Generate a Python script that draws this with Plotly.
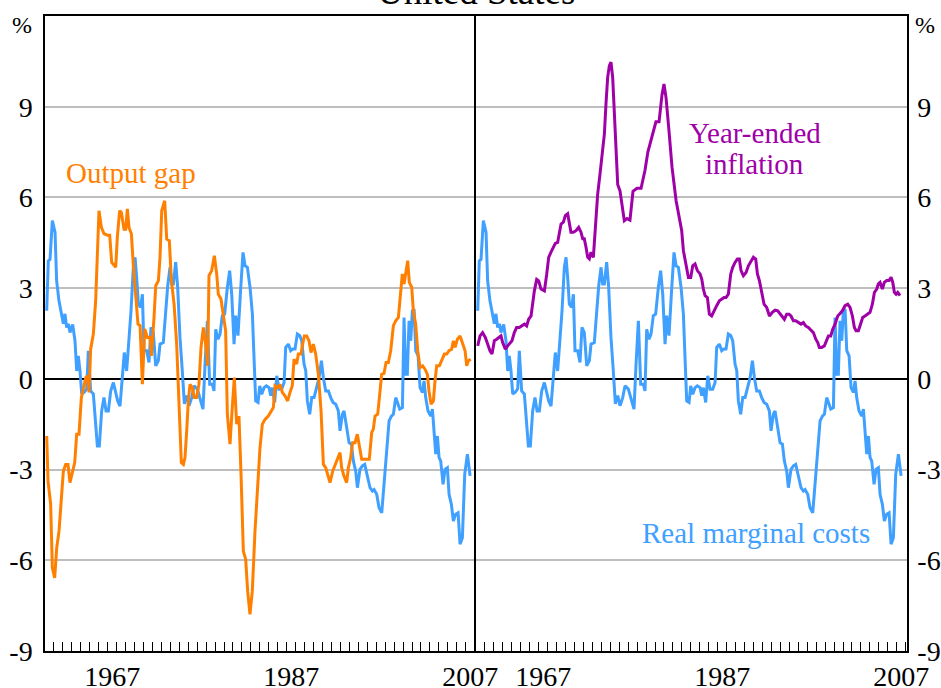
import plotly.graph_objects as go

# ---------------- data ----------------
rmc_years = [1960.19, 1960.37, 1960.56, 1960.82, 1961.12, 1961.30, 1961.56, 1961.86, 1962.05, 1962.23,
             1962.42, 1962.61, 1962.79, 1963.09, 1963.35, 1963.54, 1963.72, 1963.91, 1964.10, 1964.39,
             1964.66, 1964.84, 1965.10, 1965.40, 1965.59, 1965.85, 1966.07, 1966.33, 1966.59, 1966.82,
             1967.08, 1967.34, 1967.64, 1967.90, 1968.12, 1968.38, 1968.64, 1968.86, 1969.12, 1969.39,
             1969.61, 1969.87, 1970.06, 1970.24, 1970.43, 1970.69, 1970.88, 1971.06, 1971.36, 1971.62,
             1971.84, 1972.10, 1972.37, 1972.66, 1972.85, 1973.22, 1973.48, 1973.71, 1973.97, 1974.15,
             1974.34, 1974.60, 1974.82, 1975.08, 1975.34, 1975.57, 1975.83, 1976.09, 1976.39, 1976.65,
             1977.02, 1977.39, 1977.65, 1977.88, 1978.14, 1978.40, 1978.70, 1978.88, 1979.07, 1979.33,
             1979.55, 1979.81, 1980.07, 1980.37, 1980.63, 1980.86, 1981.12, 1981.30, 1981.56, 1981.86,
             1982.12, 1982.35, 1982.61, 1982.91, 1983.17, 1983.35, 1983.54, 1983.80, 1983.99, 1984.21,
             1984.47, 1984.73, 1985.03, 1985.22, 1985.40, 1985.66, 1985.89, 1986.15, 1986.44, 1986.71,
             1986.89, 1987.19, 1987.45, 1987.71, 1987.93, 1988.19, 1988.46, 1988.68, 1988.94, 1989.13,
             1989.31, 1989.57, 1989.80, 1990.06, 1990.32, 1990.62, 1990.88, 1991.10, 1991.36, 1991.66,
             1991.92, 1992.18, 1992.48, 1992.77, 1992.96, 1993.22, 1993.41, 1993.67, 1993.97, 1994.23,
             1994.45, 1994.71, 1994.90, 1995.19, 1995.46, 1995.72, 1996.01, 1996.31, 1996.57, 1996.76,
             1997.06, 1997.32, 1997.62, 1997.88, 1998.18, 1998.44, 1998.70, 1998.92, 1999.18, 1999.37,
             1999.63, 1999.93, 2000.11, 2000.30, 2000.48, 2000.67, 2000.86, 2001.04, 2001.23, 2001.42,
             2001.68, 2001.90, 2002.16, 2002.35, 2002.53, 2002.79, 2003.09, 2003.28, 2003.46, 2003.65,
             2003.84, 2004.02, 2004.21, 2004.47, 2004.69, 2004.95, 2005.14, 2005.40, 2005.62, 2005.88,
             2006.15, 2006.37, 2006.63, 2006.89, 2007.19, 2007.49]
rmc_values = [2.25, 3.90, 3.95, 5.23, 4.85, 3.25, 2.58, 2.15, 1.82, 2.15,
              1.70, 1.82, 1.53, 1.80, 1.26, 0.26, 0.76, 0.26, -0.50, -0.44,
              -0.33, 0.93, -0.40, -0.50, -1.28, -2.22, -2.22, -1.06, -0.62, -1.06,
              -1.06, -0.40, -0.12, -0.40, -0.73, -0.90, 0.26, 0.87, 0.26, 1.26,
              2.25, 3.69, 4.02, 3.36, 2.47, 2.36, 2.80, 0.93, 0.93, 0.54,
              1.70, 1.53, 0.43, 0.60, 1.15, 1.20, 2.15, 3.08, 3.69, 3.14,
              3.14, 3.86, 3.03, 1.37, 0.26, -0.83, -0.55, -0.89, -0.62, -0.23,
              -0.34, -0.68, -1.00, 0.49, 1.92, -0.18, -0.18, -0.40, 1.64, 1.31,
              1.48, 2.09, 2.14, 3.02, 3.58, 2.80, 1.15, 2.09, 1.43, 2.97,
              4.18, 3.74, 3.69, 3.02, 2.14, 0.71, -0.73, -0.78, -0.23, -0.51,
              -0.29, -0.23, -0.29, -0.56, -0.29, -0.78, 0.10, -0.34, -0.34, -0.12,
              1.04, 1.15, 0.93, 0.99, 0.99, 1.48, 1.43, 1.26, 0.49, 0.27,
              -0.73, -1.17, -0.62, -0.62, -0.29, 0.04, 0.60, 0.04, -0.40, -0.40,
              -0.62, -0.78, -0.84, -1.06, -1.72, -1.17, -1.06, -1.61, -2.11, -2.16,
              -2.72, -3.05, -3.60, -2.99, -2.88, -2.83, -3.16, -3.60, -3.71, -3.66,
              -3.82, -4.26, -4.43, -3.38, -2.27, -1.39, -1.23, -1.17, -0.62, -0.78,
              -1.00, -0.95, 2.03, 0.15, 0.15, 1.92, 1.26, 2.25, 2.31, 0.93,
              0.76, -0.29, -0.45, -0.07, -0.62, -1.06, -1.23, -1.00, -1.83, -2.49,
              -1.89, -2.60, -2.72, -3.49, -2.99, -2.94, -3.82, -4.15, -4.70, -4.48,
              -4.43, -5.47, -5.25, -3.16, -2.49, -3.21]

gap_years = [1960.19, 1960.34, 1960.63, 1960.82, 1961.08, 1961.31, 1961.57, 1961.83, 1962.05, 1962.31,
             1962.57, 1962.79, 1963.06, 1963.32, 1963.54, 1963.80, 1964.06, 1964.28, 1964.55, 1964.73,
             1964.92, 1965.10, 1965.40, 1965.66, 1965.85, 1966.03, 1966.30, 1966.59, 1966.97, 1967.23,
             1967.45, 1967.71, 1967.90, 1968.08, 1968.34, 1968.53, 1968.83, 1969.02, 1969.20, 1969.39,
             1969.65, 1969.87, 1970.13, 1970.39, 1970.62, 1970.88, 1971.14, 1971.44, 1971.73, 1971.88,
             1972.18, 1972.37, 1972.67, 1972.85, 1973.04, 1973.37, 1973.60, 1973.89, 1974.12, 1974.42,
             1974.71, 1974.90, 1975.09, 1975.23, 1975.46, 1975.64, 1975.83, 1976.01, 1976.20, 1976.46,
             1976.68, 1976.94, 1977.20, 1977.43, 1977.69, 1977.95, 1978.17, 1978.32, 1978.62, 1978.92,
             1979.18, 1979.36, 1979.66, 1979.92, 1980.18, 1980.37, 1980.67, 1980.85, 1981.15, 1981.41,
             1981.67, 1981.90, 1982.16, 1982.42, 1982.64, 1982.90, 1983.16, 1983.46, 1983.76, 1984.02,
             1984.28, 1984.58, 1984.95, 1985.25, 1985.51, 1985.70, 1986.00, 1986.26, 1986.52, 1986.81,
             1987.11, 1987.37, 1987.63, 1987.82, 1988.12, 1988.30, 1988.60, 1988.75, 1988.97, 1989.23,
             1989.49, 1989.72, 1989.98, 1990.24, 1990.54, 1990.84, 1991.10, 1991.36, 1991.66, 1991.84,
             1992.14, 1992.40, 1992.66, 1992.96, 1993.14, 1993.40, 1993.70, 1993.89, 1994.15, 1994.37,
             1994.63, 1994.89, 1995.12, 1995.38, 1995.64, 1995.94, 1996.23, 1996.50, 1996.68, 1996.87,
             1997.17, 1997.43, 1997.61, 1997.87, 1998.10, 1998.36, 1998.62, 1998.92, 1999.18, 1999.48,
             1999.66, 1999.92, 2000.11, 2000.33, 2000.52, 2000.70, 2000.97, 2001.15, 2001.41, 2001.64,
             2001.90, 2002.19, 2002.45, 2002.72, 2002.90, 2003.13, 2003.39, 2003.57, 2003.76, 2004.06,
             2004.32, 2004.62, 2004.88, 2005.14, 2005.43, 2005.62, 2005.81, 2006.07, 2006.37, 2006.67,
             2006.93, 2007.11, 2007.30, 2007.56]
gap_values = [-1.89, -3.38, -4.14, -6.25, -6.58, -5.58, -5.03, -4.10, -3.05, -2.83,
              -2.83, -3.43, -3.10, -2.77, -1.83, -1.83, -0.62, -0.34, 0.04, 0.10,
              -0.45, 0.98, 1.48, 2.58, 3.91, 5.56, 5.01, 4.80, 4.75, 4.75,
              3.85, 3.74, 3.69, 4.68, 5.56, 5.50, 4.95, 4.95, 5.62, 5.00,
              4.80, 3.74, 2.86, 1.81, 1.76, -0.18, 1.65, 1.37, 1.37, 0.76,
              2.03, 3.08, 3.25, 4.02, 5.56, 5.89, 4.62, 4.57, 3.25, 2.47,
              1.15, -0.18, -1.50, -2.77, -2.83, -2.60, -1.72, -0.73, -0.18, -0.29,
              -0.62, -0.62, -0.18, 1.04, 1.70, 1.15, 0.43, 3.41, 3.58, 4.07,
              3.47, 2.80, 2.64, 2.14, 1.59, -1.17, -2.16, -1.28, 0.04, -1.50,
              -1.23, -3.16, -5.70, -5.97, -7.02, -7.79, -7.02, -5.03, -3.38, -2.27,
              -1.50, -1.34, -1.23, -1.06, -0.95, -0.23, -0.29, -0.18, -0.45, -0.56,
              -0.73, -0.45, -0.23, 0.65, 0.49, 0.82, 0.82, 1.10, 1.42, 1.42,
              1.26, 0.87, 1.15, 0.82, 0.15, -1.06, -2.83, -2.94, -3.21, -3.43,
              -3.05, -2.83, -2.66, -2.44, -2.94, -3.21, -3.43, -2.94, -2.60, -2.11,
              -2.11, -1.83, -2.22, -2.66, -2.66, -2.66, -2.66, -1.77, -1.66, -1.23,
              -1.17, -0.40, 0.15, 0.18, 0.54, 0.54, 0.93, 1.76, 1.92, 2.03,
              2.53, 3.47, 3.14, 3.52, 3.91, 3.19, 3.03, 2.25, 1.81, 0.93,
              0.37, 0.43, 0.32, 0.15, -0.40, -0.84, -0.73, -0.07, 0.43, 0.43,
              0.60, 0.82, 0.82, 0.93, 0.98, 1.26, 1.04, 1.31, 1.42, 1.15,
              0.93, 0.43, 0.60, 0.65]

infl_years = [1960.19, 1960.45, 1960.74, 1961.04, 1961.30, 1961.56, 1961.79, 1962.05, 1962.31, 1962.61,
              1962.79, 1962.98, 1963.28, 1963.54, 1963.72, 1964.02, 1964.28, 1964.54, 1964.84, 1965.14,
              1965.40, 1965.66, 1965.88, 1966.15, 1966.33, 1966.52, 1966.78, 1967.00, 1967.26, 1967.64,
              1967.90, 1968.12, 1968.38, 1968.64, 1968.86, 1969.12, 1969.31, 1969.50, 1969.76, 1969.98,
              1970.24, 1970.43, 1970.61, 1970.88, 1971.17, 1971.47, 1971.73, 1971.92, 1972.10, 1972.29,
              1972.48, 1972.66, 1972.85, 1973.11, 1973.33, 1973.59, 1973.85, 1974.15, 1974.34, 1974.52,
              1974.71, 1974.90, 1975.08, 1975.27, 1975.46, 1975.64, 1975.83, 1976.09, 1976.31, 1976.57,
              1976.87, 1977.20, 1977.54, 1977.99, 1978.44, 1978.88, 1979.20, 1979.66, 1980.10, 1980.45,
              1980.78, 1981.00, 1981.23, 1981.56, 1981.90, 1982.35, 1982.80, 1982.98, 1983.17, 1983.43,
              1983.73, 1983.99, 1984.21, 1984.47, 1984.73, 1985.03, 1985.22, 1985.40, 1985.59, 1985.85,
              1986.07, 1986.33, 1986.59, 1986.89, 1987.19, 1987.45, 1987.71, 1987.93, 1988.19, 1988.46,
              1988.68, 1988.94, 1989.20, 1989.42, 1989.61, 1989.87, 1990.17, 1990.43, 1990.73, 1990.99,
              1991.25, 1991.44, 1991.66, 1991.92, 1992.18, 1992.48, 1992.78, 1993.11, 1993.41, 1993.71,
              1993.97, 1994.23, 1994.45, 1994.71, 1994.97, 1995.19, 1995.46, 1995.72, 1996.01, 1996.31,
              1996.57, 1996.83, 1997.13, 1997.43, 1997.69, 1997.95, 1998.18, 1998.36, 1998.62, 1998.92,
              1999.18, 1999.37, 1999.63, 1999.85, 2000.11, 2000.41, 2000.67, 2000.93, 2001.23, 2001.53,
              2001.79, 2002.05, 2002.27, 2002.46, 2002.72, 2002.98, 2003.20, 2003.46, 2003.72, 2004.02,
              2004.28, 2004.51, 2004.77, 2004.95, 2005.14, 2005.40, 2005.62, 2005.88, 2006.15, 2006.37,
              2006.56, 2006.74, 2006.93, 2007.11, 2007.37]
infl_values = [1.09, 1.42, 1.53, 1.37, 1.15, 0.93, 0.82, 1.26, 1.31, 1.37,
               1.42, 1.20, 0.98, 1.09, 1.15, 1.26, 1.53, 1.70, 1.70, 1.75,
               1.81, 1.75, 1.97, 2.08, 2.47, 2.91, 3.29, 3.24, 2.97, 2.91,
               3.46, 4.02, 4.19, 4.35, 4.48, 4.51, 4.79, 5.12, 5.18, 5.40,
               5.46, 5.12, 4.85, 4.85, 4.90, 5.01, 4.85, 4.63, 4.63, 4.35,
               4.02, 3.97, 4.19, 4.02, 5.12, 6.10, 6.76, 7.54, 8.09, 9.09,
               9.97, 10.36, 10.47, 9.97, 8.87, 7.54, 6.43, 6.21, 5.77, 5.23,
               5.30, 5.25, 6.20, 6.30, 6.30, 6.90, 7.50, 8.00, 8.50, 8.50,
               9.40, 9.75, 9.30, 8.20, 7.00, 5.90, 5.20, 4.90, 4.24, 3.80,
               3.35, 3.35, 3.74, 3.80, 3.58, 3.47, 3.30, 2.97, 2.75, 2.69,
               2.14, 2.08, 2.25, 2.42, 2.58, 2.64, 2.69, 2.69, 2.80, 3.47,
               3.69, 3.85, 3.96, 3.96, 3.58, 3.41, 3.52, 3.74, 3.91, 4.02,
               3.96, 3.47, 3.25, 2.91, 2.47, 2.36, 2.08, 2.20, 2.27, 2.25,
               2.14, 2.03, 1.97, 2.14, 2.14, 2.08, 1.92, 1.92, 1.86, 1.81,
               1.86, 1.75, 1.70, 1.59, 1.53, 1.32, 1.20, 1.04, 1.04, 1.09,
               1.26, 1.42, 1.42, 1.64, 1.81, 2.08, 2.16, 2.25, 2.42, 2.47,
               2.36, 2.08, 1.70, 1.59, 1.59, 1.81, 2.03, 2.08, 2.14, 2.20,
               2.47, 2.86, 2.97, 3.14, 3.19, 2.97, 3.19, 3.25, 3.25, 3.36,
               3.19, 2.86, 2.80, 2.86, 2.75]

y_ticks = [-9, -6, -3, 0, 3, 6, 9]
y_tick_labels = ["-9", "-6", "-3", "0", "3", "6", "9"]
x_tick_labels = ["1967", "1987", "2007"]
x_tick_pos = [1967.5, 1987.5, 2007.5]

# ---------------- styling ----------------
ORANGE = "#FF8000"
BLUE = "#40A0FF"
PURPLE = "#A000A8"
FONT = "Liberation Serif"
X_RANGE = [1960, 2008.15]
Y_RANGE = [-9, 12]

fig = go.Figure()
fig.add_trace(go.Scatter(x=rmc_years, y=rmc_values, mode="lines",
                         line=dict(color=BLUE, width=3), xaxis="x", yaxis="y"))
fig.add_trace(go.Scatter(x=gap_years, y=gap_values, mode="lines",
                         line=dict(color=ORANGE, width=3), xaxis="x", yaxis="y"))
fig.add_trace(go.Scatter(x=rmc_years, y=rmc_values, mode="lines",
                         line=dict(color=BLUE, width=3), xaxis="x2", yaxis="y2"))
fig.add_trace(go.Scatter(x=infl_years, y=infl_values, mode="lines",
                         line=dict(color=PURPLE, width=3), xaxis="x2", yaxis="y2"))

xcommon = dict(range=X_RANGE, showgrid=False, zeroline=False, showline=True, mirror=True,
               linecolor="black", linewidth=1.5, ticks="", tickvals=x_tick_pos,
               ticktext=x_tick_labels, tickfont=dict(family=FONT, size=28, color="black"),
               automargin=False,
               minor=dict(tickmode="array", tickvals=list(range(1961, 2009)), ticks="inside",
                          ticklen=9, tickcolor="black", tickwidth=1, showgrid=False))
ycommon = dict(range=Y_RANGE, tickvals=y_ticks, ticktext=y_tick_labels, ticks="",
               showgrid=True, gridcolor="#BEBEBE",
               gridwidth=1.5, zeroline=True, zerolinecolor="black", zerolinewidth=1.5,
               showline=True, linecolor="black", linewidth=1.5, automargin=False,
               tickfont=dict(family=FONT, size=28, color="black"))

fig.update_layout(
    width=941, height=688,
    margin=dict(l=45, r=34, t=16, b=37, autoexpand=False),
    paper_bgcolor="white", plot_bgcolor="white",
    showlegend=False,
    xaxis=dict(domain=[0, 0.5], anchor="y", **xcommon),
    xaxis2=dict(domain=[0.5, 1], anchor="y2", **xcommon),
    yaxis=dict(anchor="x", side="left", mirror=False, ticklabelstandoff=5, **ycommon),
    yaxis2=dict(anchor="x2", side="right", mirror=True, ticklabelstandoff=3, **ycommon),
)

ann = []
ann.append(dict(text="United States", xref="paper", yref="paper", x=0.5, y=1,
                xanchor="center", yanchor="bottom", yshift=2, showarrow=False,
                font=dict(family=FONT, size=37, color="black")))
ann.append(dict(text="%", xref="paper", yref="paper", x=-0.027, y=0.986,
                xanchor="center", yanchor="middle", showarrow=False,
                font=dict(family=FONT, size=24, color="black")))
ann.append(dict(text="%", xref="paper", yref="paper", x=1.021, y=0.986,
                xanchor="center", yanchor="middle", showarrow=False,
                font=dict(family=FONT, size=24, color="black")))
ann.append(dict(text="Output gap", xref="x", yref="y", x=1969.6, y=6.82,
                xanchor="center", yanchor="middle", showarrow=False,
                font=dict(family=FONT, size=29, color=ORANGE)))
ann.append(dict(text="Year-ended", xref="x2", yref="y2", x=1991.2, y=8.12,
                xanchor="center", yanchor="middle", showarrow=False,
                font=dict(family=FONT, size=29, color=PURPLE)))
ann.append(dict(text="inflation", xref="x2", yref="y2", x=1991.1, y=7.12,
                xanchor="center", yanchor="middle", showarrow=False,
                font=dict(family=FONT, size=29, color=PURPLE)))
ann.append(dict(text="Real marginal costs", xref="x2", yref="y2", x=1991.3, y=-5.1,
                xanchor="center", yanchor="middle", showarrow=False,
                font=dict(family=FONT, size=29, color=BLUE)))
fig.update_layout(annotations=ann)

# remove the browser's default 8px page margin so the figure sits at the window's corner
fig.write_html("out.html", config={"displayModeBar": False},
               post_script="document.body.style.margin='0';")
